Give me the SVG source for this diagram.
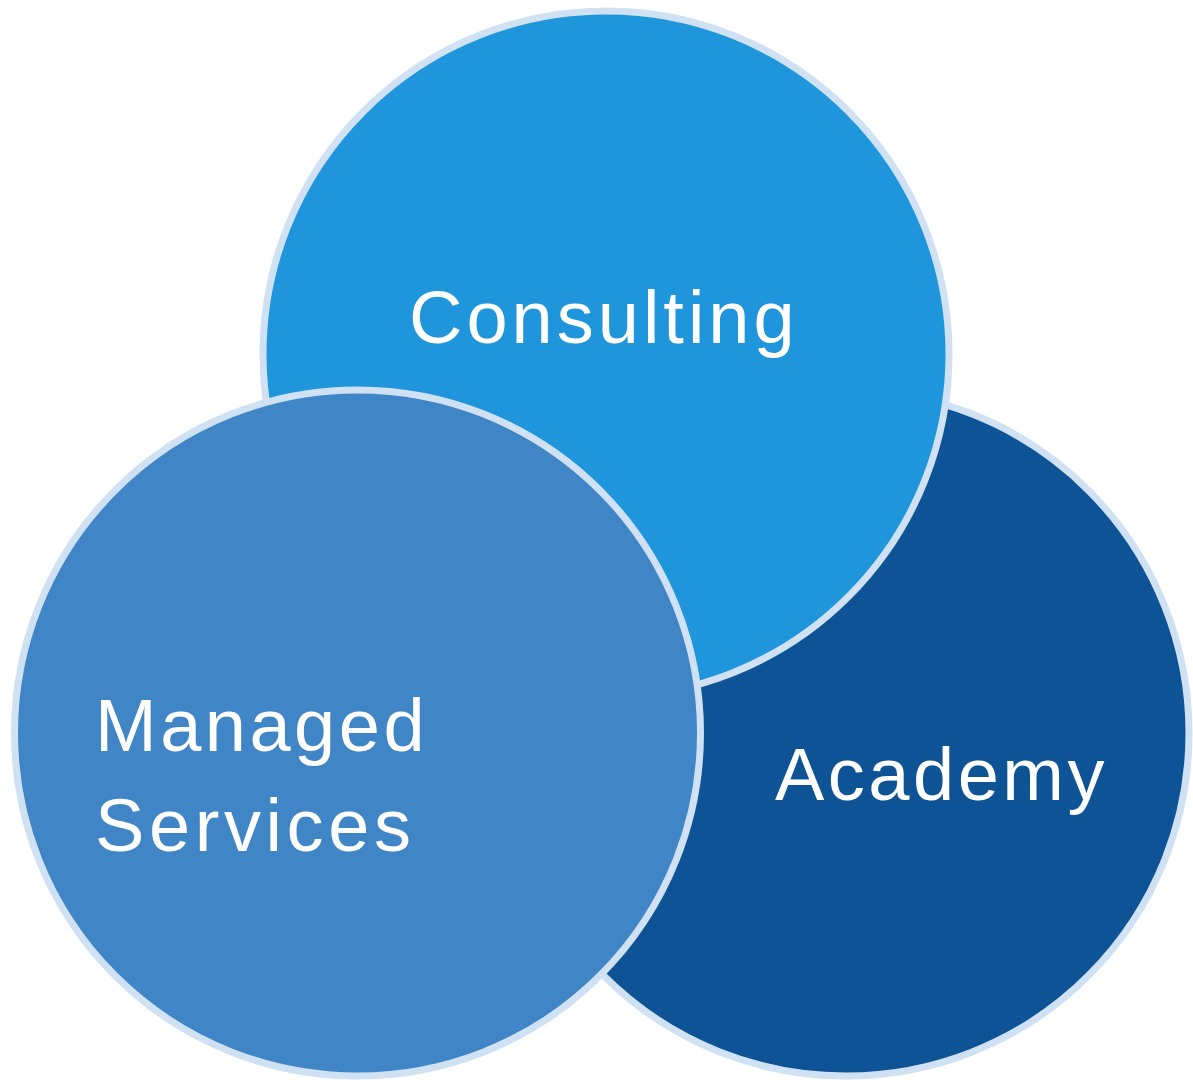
<svg xmlns="http://www.w3.org/2000/svg" width="1193" height="1080" viewBox="0 0 1193 1080">
<style>
.c{stroke:#cfe1f3;stroke-width:7}
.t{font-family:"Liberation Sans",Arial,sans-serif;font-size:74px;fill:#ffffff;letter-spacing:3.5px}
</style>
<rect width="1193" height="1080" fill="#ffffff"/>
<g id="academy">
<circle class="c" cx="846" cy="733" r="343" fill="#0d5396"/>
<text class="t" x="775" y="800">Academy</text>
</g>
<g id="consulting">
<circle class="c" cx="606" cy="354" r="343" fill="#1f96dc"/>
<text class="t" x="409" y="343" style="letter-spacing:4px">Consulting</text>
</g>
<g id="managed">
<circle class="c" cx="357.5" cy="733" r="343" fill="#4086c7"/>
<text class="t" x="95" y="751">Managed</text>
<text class="t" x="95" y="851" style="letter-spacing:4.6px">Services</text>
</g>
<g id="connectors"></g>
</svg>
